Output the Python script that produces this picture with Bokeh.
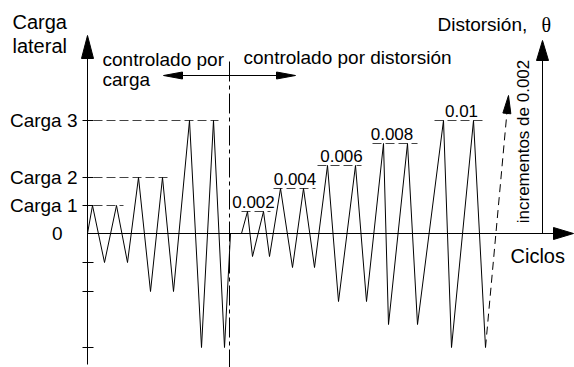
import math
from bokeh.plotting import figure
from bokeh.models import Range1d
from bokeh.core.properties import value
from bokeh.embed import file_html
from bokeh.resources import INLINE

# ---------------- data ----------------
# Load-controlled phase: cycle position vs lateral load
load_x = [0, 5, 17, 29, 40, 51, 63, 75, 86, 102, 114, 126, 137, 143]
load_y = [0, 28, -29, 28, -29, 56, -58, 56, -58, 113, -114, 113, -114, 0]

# Drift-controlled phase
drift_x = [154, 160, 165, 176, 182, 193, 205, 216, 227, 240, 251, 268, 279,
           296, 301, 320, 330, 356, 364, 386, 398]
drift_y = [0, 22, -23, 22, -23, 45, -34, 45, -34, 68, -68, 68, -68,
           90, -91, 90, -91, 113, -114, 113, -114]

load_levels = [0, 28, 56, 113]
load_labels = ["0", "Carga 1", "Carga 2", "Carga 3"]
load_ref_end = [0, 36, 80, 131]
neg_ticks = [-29, -58, -114]

drift_levels = [22, 45, 68, 90, 113]
drift_labels = ["0.002", "0.004", "0.006", "0.008", "0.01"]
drift_ref_start = [154, 186, 230, 285, 347]
drift_ref_end = [183, 228, 274, 330, 398]
drift_label_x = [166, 207.5, 254, 304.5, 374]

# ---------------- figure ----------------
p = figure(width=574, height=367, x_range=Range1d(-87, 487), y_range=Range1d(-134, 233),
           output_backend="svg", toolbar_location=None, min_border=0,
           x_axis_type=None, y_axis_type=None)
p.grid.visible = False
p.outline_line_color = None
p.background_fill_color = "white"
p.border_fill_color = "white"

FONT = value("Liberation Sans")
BLK = "black"


def head(tx, ty, dx, dy, length, width):
    n = math.hypot(dx, dy)
    ux, uy = dx / n, dy / n
    bx, by = tx - ux * length, ty - uy * length
    px_, py_ = -uy * width / 2, ux * width / 2
    return [tx, bx + px_, bx - px_], [ty, by + py_, by - py_]


heads_x, heads_y = [], []

# left axis
p.line([0, 0], [-131, 180], line_color=BLK, line_width=1)
hx, hy = head(0, 198, 0, 1, 23, 12); heads_x.append(hx); heads_y.append(hy)
# zero line / x axis
p.line([0, 470], [0, 0], line_color=BLK, line_width=1)
hx, hy = head(486, 0, 1, 0, 20, 12); heads_x.append(hx); heads_y.append(hy)
# right axis
p.line([455, 455], [0, 176], line_color=BLK, line_width=1)
hx, hy = head(455, 193, 0, 1, 20, 12); heads_x.append(hx); heads_y.append(hy)

# divider (dash-dot)
p.line([142, 142], [172, -140], line_color=BLK, line_width=1, line_dash="20 4 4 4")
# double arrow
p.line([80, 204], [158, 158], line_color=BLK, line_width=1)
hx, hy = head(76, 158, -1, 0, 19, 7); heads_x.append(hx); heads_y.append(hy)
hx, hy = head(208, 158, 1, 0, 19, 7); heads_x.append(hx); heads_y.append(hy)

# ticks on the left axis
tick_levels = load_levels[1:] + neg_ticks
p.multi_line([[-5, 6] for _ in tick_levels], [[v, v] for v in tick_levels],
             line_color=BLK, line_width=1)

# dashed reference lines for load levels
p.multi_line([[6, e] for e in load_ref_end[1:]], [[v, v] for v in load_levels[1:]],
             line_color="#444444", line_width=1, line_dash="9 4")
# dashed reference lines for drift levels
p.multi_line([[s, e] for s, e in zip(drift_ref_start, drift_ref_end)],
             [[v, v] for v in drift_levels],
             line_color="#444444", line_width=1, line_dash="9 4")

# cycles
p.line(load_x, load_y, line_color=BLK, line_width=1)
p.line(drift_x, drift_y, line_color=BLK, line_width=1)

# dashed arrow "incrementos"
tip = (421, 138)
dxv, dyv = tip[0] - drift_x[-1], tip[1] - drift_y[-1]
n = math.hypot(dxv, dyv)
base = (tip[0] - dxv / n * 17, tip[1] - dyv / n * 17)
p.line([drift_x[-1], base[0]], [drift_y[-1], base[1]], line_color=BLK, line_width=1,
       line_dash="8 5")
hx, hy = head(tip[0], tip[1], dxv, dyv, 18, 8); heads_x.append(hx); heads_y.append(hy)

p.patches(heads_x, heads_y, fill_color=BLK, line_color=BLK)

# ---------------- texts ----------------
p.text(x=[-10] * 3 + [-25], y=load_levels[1:] + [0], text=load_labels[1:] + ["0"],
       text_font=FONT, text_font_size="19px", text_align="right", text_baseline="middle",
       text_color=BLK)
p.text(x=drift_label_x, y=[v + 10 for v in drift_levels], text=drift_labels,
       text_font=FONT, text_font_size="17px", text_align="center",
       text_baseline="middle", text_color=BLK)
p.text(x=[-75, -75], y=[211.5, 187.5], text=["Carga", "lateral"], text_font=FONT,
       text_font_size="20px", text_baseline="middle", text_color=BLK)
p.text(x=[15, 15, 156], y=[174.5, 154, 176.5],
       text=["controlado por", "carga", "controlado por distorsión"], text_font=FONT,
       text_font_size="19px", text_baseline="middle", text_color=BLK)
p.text(x=[350], y=[209], text=["Distorsión,"], text_font=FONT, text_font_size="19px",
       text_baseline="middle", text_color=BLK)
p.text(x=[454], y=[209], text=["θ"], text_font=value("Liberation Serif"),
       text_font_size="20px", text_baseline="middle", text_color=BLK)
p.text(x=[423], y=[-22], text=["Ciclos"], text_font=FONT, text_font_size="20px",
       text_baseline="middle", text_color=BLK)
p.text(x=[436], y=[92], text=["incrementos de 0.002"], angle=math.pi / 2,
       text_font=FONT, text_font_size="17px", text_align="center",
       text_baseline="middle", text_color=BLK)

open("out.html", "w").write(file_html(p, INLINE))
